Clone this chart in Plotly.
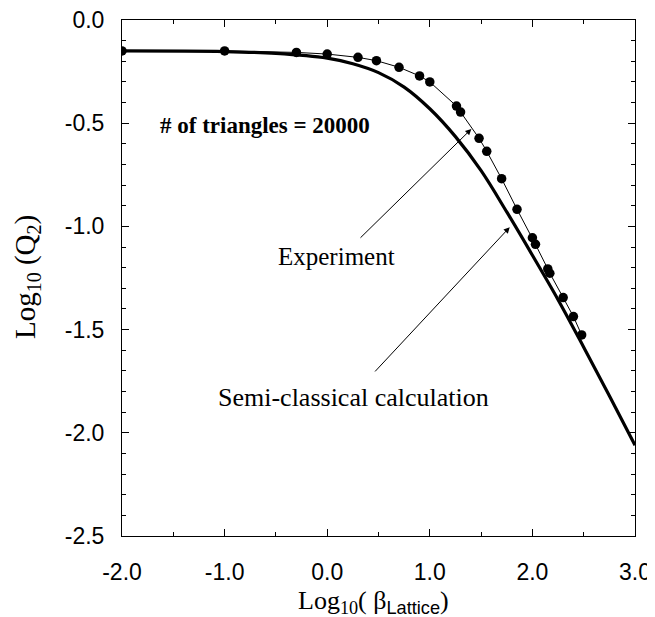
"""Log10(Q2) vs Log10(beta_Lattice): experiment points vs semi-classical curve."""

import plotly.graph_objects as go

# experiment (dots joined by a thin line)
EXP_X = [-2.0, -1.0, -0.30, 0.0, 0.30, 0.48, 0.70, 0.90, 1.00, 1.26, 1.30,
         1.48, 1.555, 1.70, 1.85, 2.00, 2.03, 2.15, 2.17, 2.30, 2.40, 2.48]
EXP_Y = [-0.150, -0.150, -0.157, -0.165, -0.181, -0.197, -0.229, -0.271, -0.300,
         -0.417, -0.446, -0.573, -0.636, -0.769, -0.917, -1.055, -1.087, -1.206,
         -1.227, -1.345, -1.437, -1.526]

# semi-classical calculation (thick curve)
SC_X = [-2.0, -1.0, -0.5, 0.0, 0.25, 0.5, 0.75, 1.0, 1.25, 1.5, 1.75, 2.0,
        2.25, 2.5, 2.75, 3.0]
SC_Y = [-0.150, -0.153, -0.162, -0.185, -0.212, -0.255, -0.325, -0.43, -0.565,
        -0.73, -0.93, -1.14, -1.355, -1.585, -1.82, -2.06]

X_TICKS = [-2.0, -1.0, 0.0, 1.0, 2.0, 3.0]
X_TICK_TEXT = ["-2.0", "-1.0", "0.0", "1.0", "2.0", "3.0"]
Y_TICKS = [0.0, -0.5, -1.0, -1.5, -2.0, -2.5]
Y_TICK_TEXT = ["0.0", "-0.5", "-1.0", "-1.5", "-2.0", "-2.5"]

SERIF = "Liberation Serif"
SANS = "Liberation Sans"

fig = go.Figure()
fig.add_trace(go.Scatter(x=SC_X, y=SC_Y, mode="lines",
                         line=dict(color="black", width=3.2, shape="spline"),
                         showlegend=False))
fig.add_trace(go.Scatter(x=EXP_X, y=EXP_Y, mode="lines+markers",
                         line=dict(color="black", width=1),
                         marker=dict(color="black", size=9.5),
                         showlegend=False))

# labels
fig.add_annotation(x=-0.604, y=-0.509, text="<b># of triangles = 20000</b>", showarrow=False,
                   font=dict(family=SERIF, size=23, color="black"))
fig.add_annotation(x=0.677, y=-1.147, xanchor="right", text="Experiment", showarrow=False,
                   font=dict(family=SERIF, size=25, color="black"))
fig.add_annotation(x=0.258, y=-1.827, text="Semi-classical calculation", showarrow=False,
                   font=dict(family=SERIF, size=26, color="black"))
# arrows
arrow = dict(text="", showarrow=True, arrowhead=2, arrowsize=1.2, arrowwidth=1,
             arrowcolor="black", axref="x", ayref="y", xref="x", yref="y", standoff=0)
fig.add_annotation(x=1.405, y=-0.528, ax=0.31, ay=-1.062, **arrow)
fig.add_annotation(x=1.779, y=-1.004, ax=0.453, ay=-1.710, **arrow)

# axis titles
fig.add_annotation(xref="paper", yref="paper", x=0.491, y=-0.093, xanchor="center", yanchor="top",
                   text="Log<sub>10</sub>( β<sub><span style='font-family:Liberation Sans'>Lattice</span></sub>)",
                   showarrow=False, font=dict(family=SERIF, size=26, color="black"))
fig.add_annotation(xref="paper", yref="paper", x=-0.185, y=0.502, xanchor="center", yanchor="middle",
                   textangle=-90,
                   text="Log<sub><span style='font-size:20px'>10</span></sub> (Q<sub><span style='font-size:20px'>2</span></sub>)",
                   showarrow=False, font=dict(family=SERIF, size=29, color="black"))

axis_common = dict(showgrid=False, zeroline=False, showline=True, linecolor="black",
                   linewidth=1, mirror="allticks", ticks="inside", ticklen=7,
                   tickcolor="black", tickwidth=1, automargin=False, ticklabeloverflow="allow",
                   tickfont=dict(family=SANS, size=23, color="black"))
fig.update_xaxes(range=[-2, 3], tickvals=X_TICKS, ticktext=X_TICK_TEXT, ticklabelstandoff=15,
                 minor=dict(dtick=0.5, tick0=-2, ticks="inside", ticklen=4, tickcolor="black"),
                 **axis_common)
fig.update_yaxes(range=[-2.5, 0], tickvals=Y_TICKS, ticktext=Y_TICK_TEXT, ticklabelstandoff=12,
                 minor=dict(dtick=0.1, tick0=0, ticks="inside", ticklen=4, tickcolor="black"),
                 **axis_common)
# page body adds an 8 px offset, so the figure is sized/margined to land the frame at 122..635 x 20..536
fig.update_layout(width=647, height=609, template="none",
                  plot_bgcolor="white", paper_bgcolor="white",
                  margin=dict(l=114, r=20, t=12, b=81), showlegend=False)
fig.write_html("out.html")
